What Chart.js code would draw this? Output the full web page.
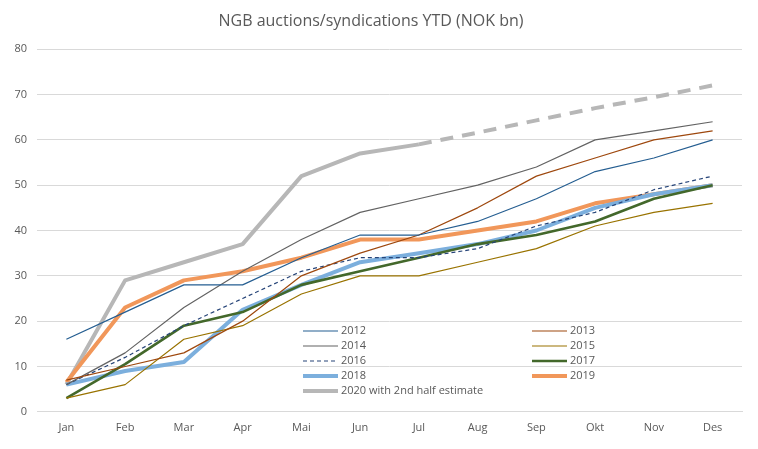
<!DOCTYPE html>
<html>
<head>
<meta charset="utf-8">
<script src="https://cdn.jsdelivr.net/npm/chart.js@4.4.1/dist/chart.umd.min.js"></script>
<style>
  html, body { margin: 0; padding: 0; background: #ffffff; }
  #wrap { width: 758px; height: 449px; position: relative; }
</style>
</head>
<body>
<div id="wrap"><canvas id="c"></canvas></div>
<script>
const months = ["Jan","Feb","Mar","Apr","Mai","Jun","Jul","Aug","Sep","Okt","Nov","Des"];
const s2012 = [16, 22, 28, 28, 34, 39, 39, 42, 47, 53, 56, 60];
const s2013 = [7, 10, 13, 20, 30, 35, 39, 45, 52, 56, 60, 62];
const s2014 = [6, 13, 23, 31, 38, 44, 47, 50, 54, 60, 62, 64];
const s2015 = [3, 6, 16, 19, 26, 30, 30, 33, 36, 41, 44, 46];
const s2016 = [6, 12, 19, 25, 31, 34, 34, 36, 41, 44, 49, 52];
const s2017 = [3, 10.5, 19, 22, 28, 31, 34, 37, 39, 42, 47, 50];
const s2018 = [6, 9, 11, 22.5, 28, 33, 35, 37, 40, 45, 48, 50];
const s2019 = [6.5, 23, 29, 31, 34, 38, 38, 40, 42, 46, 48, 50];
const s2020 = [6, 29, 33, 37, 52, 57, 59, 61.6, 64.3, 67, 69.4, 72];
const yTicks = [0, 10, 20, 30, 40, 50, 60, 70, 80];
const estimateFromIndex = 6;

const FONT = "'Open Sans', 'DejaVu Sans', sans-serif";
const TXT = "#595959";

function ds(label, data, color, width, dash) {
  return {
    label, data,
    borderColor: color, backgroundColor: color,
    borderWidth: width, borderDash: dash || [],
    pointRadius: 0, pointHoverRadius: 0, tension: 0, fill: false,
    borderCapStyle: 'butt', borderJoinStyle: 'round'
  };
}

const datasets = [
  ds("2012", s2012, "#255E91", 1.2),
  ds("2013", s2013, "#9E480E", 1.2),
  ds("2014", s2014, "#636363", 1.2),
  ds("2015", s2015, "#997300", 1.2),
  ds("2016", s2016, "#264478", 1.2, [4, 3]),
  ds("2017", s2017, "#43682B", 2.6),
  ds("2018", s2018, "#7CAFDD", 4),
  ds("2019", s2019, "#F1975A", 4),
  Object.assign(ds("2020 with 2nd half estimate", s2020, "#B7B7B7", 4), {
    segment: {
      borderDash: ctx => ctx.p0DataIndex >= estimateFromIndex ? [13, 9] : undefined
    }
  })
];

const legendPlugin = {
  id: 'innerLegend',
  afterDatasetsDraw(chart) {
    const c = chart.ctx;
    const cols = [303, 532];
    const rows = [331, 346, 361, 376, 391];
    c.save();
    c.font = "11px " + FONT;
    c.fillStyle = TXT;
    c.textBaseline = 'middle';
    chart.data.datasets.forEach((d, i) => {
      const x = cols[i % 2];
      const y = rows[Math.floor(i / 2)];
      c.beginPath();
      c.strokeStyle = d.borderColor;
      c.lineWidth = d.borderWidth;
      c.setLineDash(d.borderDash || []);
      c.moveTo(x, y);
      c.lineTo(x + 35, y);
      c.stroke();
      c.setLineDash([]);
      c.fillText(d.label, x + 38, y);
    });
    c.restore();
  }
};

new Chart(document.getElementById('c'), {
  type: 'line',
  data: { labels: months, datasets },
  plugins: [legendPlugin],
  options: {
    responsive: true,
    maintainAspectRatio: false,
    animation: false,
    layout: { padding: { left: 0, right: 16, top: 0, bottom: 6 } },
    plugins: {
      legend: { display: false },
      tooltip: { enabled: false },
      title: {
        display: true,
        text: "NGB auctions/syndications YTD (NOK bn)",
        color: TXT,
        font: { family: FONT, size: 16, weight: 'normal' },
        padding: { top: 12, bottom: 18 }
      }
    },
    scales: {
      x: {
        offset: true,
        grid: { display: false, drawTicks: false },
        border: { display: true, color: "#D9D9D9", width: 1 },
        ticks: { color: TXT, font: { family: FONT, size: 11 }, padding: 9, maxRotation: 0, autoSkip: false }
      },
      y: {
        min: 0, max: 80,
        afterFit(scale) { scale.width = 37; },
        afterBuildTicks(scale) { scale.ticks = yTicks.map(v => ({ value: v })); },
        grid: { color: "#D9D9D9", lineWidth: 1, drawTicks: false },
        border: { display: false },
        ticks: { color: TXT, font: { family: FONT, size: 11 }, padding: 10 }
      }
    }
  }
});
</script>
</body>
</html>
